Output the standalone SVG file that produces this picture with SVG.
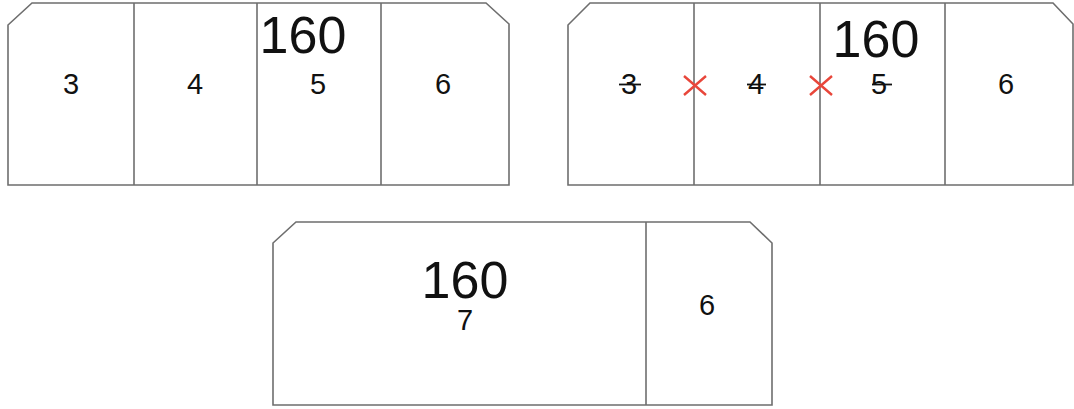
<svg xmlns="http://www.w3.org/2000/svg" width="1074" height="409" viewBox="0 0 1074 409">
<style>
.outline{fill:#fff;stroke:#6e6e6e;stroke-width:1.6}
.div{stroke:#6e6e6e;stroke-width:1.6}
.num{font-family:"Liberation Sans",Arial,sans-serif;font-size:29px;fill:#111;text-anchor:middle}
.big{font-family:"Liberation Sans",Arial,sans-serif;font-size:52px;fill:#111;text-anchor:middle}
.strike{stroke:#111;stroke-width:1.8}
.x{stroke:#e8463a;stroke-width:2.4}
</style>
<rect width="1074" height="409" fill="#fff"/>
<g id="panel-a">
<path class="outline" d="M32,3 H486 L509,24 V185 H8 V25 Z"/>
<line class="div" x1="134" y1="3" x2="134" y2="185"/>
<line class="div" x1="257" y1="3" x2="257" y2="185"/>
<line class="div" x1="381" y1="3" x2="381" y2="185"/>
<text class="num" x="71" y="94">3</text>
<text class="num" x="195" y="94">4</text>
<text class="num" x="318" y="94">5</text>
<text class="num" x="443" y="94">6</text>
<text class="big" x="303" y="53">160</text>
</g>
<g id="panel-b">
<path class="outline" d="M590,3 H1053 L1073,24 V185 H568 V25 Z"/>
<line class="div" x1="694" y1="3" x2="694" y2="185"/>
<line class="div" x1="820" y1="3" x2="820" y2="185"/>
<line class="div" x1="945" y1="3" x2="945" y2="185"/>
<text class="num" x="629" y="94">3</text>
<text class="num" x="756" y="94">4</text>
<text class="num" x="879" y="94">5</text>
<text class="num" x="1006" y="94">6</text>
<line class="strike" x1="619" y1="84.5" x2="641" y2="84.5"/>
<line class="strike" x1="747" y1="84.5" x2="766" y2="84.5"/>
<line class="strike" x1="872" y1="84.5" x2="892" y2="84.5"/>
<text class="big" x="876" y="57">160</text>
<path class="x" d="M684,76 L706,95 M706,76 L684,95"/>
<path class="x" d="M810,76 L832,95 M832,76 L810,95"/>
</g>
<g id="panel-c">
<path class="outline" d="M296,222 H750 L772,243 V405 H273 V243 Z"/>
<line class="div" x1="646" y1="222" x2="646" y2="405"/>
<text class="big" x="465" y="298">160</text>
<text class="num" x="465" y="330">7</text>
<text class="num" x="707" y="315">6</text>
</g>
</svg>
